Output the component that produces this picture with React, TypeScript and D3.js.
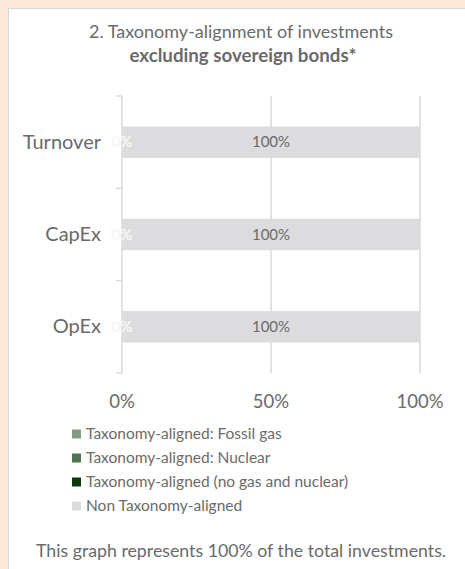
import React from "react";
import * as d3 from "d3";

const categories = ["Turnover", "CapEx", "OpEx"];
const seriesNames = [
  "Taxonomy-aligned: Fossil gas",
  "Taxonomy-aligned: Nuclear",
  "Taxonomy-aligned (no gas and nuclear)",
  "Non Taxonomy-aligned",
];
const fossilGas = [0, 0, 0];
const nuclear = [0, 0, 0];
const alignedOther = [0, 0, 0];
const nonAligned = [100, 100, 100];
const xTicks = [0, 50, 100];
const colors = ["#819c82", "#4f7553", "#0b3a0e", "#dcdcde"];

const W = 465;
const H = 569;
const font = "Lato, 'Open Sans', sans-serif";
const textColor = "#6a6a6a";

const App: React.FC = () => {
  const values = [fossilGas, nuclear, alignedOther, nonAligned];
  const rows = categories.map((c, i) => {
    const r: any = { cat: c };
    seriesNames.forEach((s, j) => (r[s] = values[j][i]));
    return r;
  });
  const stacked = d3.stack<any>().keys(seriesNames)(rows);

  const x = d3.scaleLinear().domain([0, 100]).range([122, 420]);
  const y = d3.scaleBand().domain(categories).range([96, 373]).paddingInner(0.66).paddingOuter(0.33);
  const band = d3.scaleBand().domain(categories).range([96, 373]);

  const boundaries = [96, ...categories.map((c) => (band(c) as number) + band.bandwidth())];

  return (
    <svg width={W} height={H} style={{ position: "absolute", left: 0, top: 0 }} fontFamily={font}>
      <rect x={0} y={0} width={W} height={H} fill="#fce9d8" />
      <rect x={8.5} y={8.5} width={W} height={H} fill="#fff" stroke="#d6d8dc" strokeWidth={1} />

      <text x={241} y={37.5} textAnchor="middle" fontSize={18} fill={textColor} textLength={304} lengthAdjust="spacingAndGlyphs">
        2. Taxonomy-alignment of investments
      </text>
      <text x={243} y={62} textAnchor="middle" fontSize={18} fontWeight="bold" fill={textColor} textLength={227} lengthAdjust="spacingAndGlyphs">
        excluding sovereign bonds*
      </text>

      {/* gridlines */}
      {xTicks.map((t) => (
        <line key={t} x1={x(t)} x2={x(t)} y1={96} y2={373} stroke="#d9d9d9" strokeWidth={1.5} />
      ))}
      {boundaries.map((b, i) => (
        <line key={i} x1={116} x2={122} y1={b} y2={b} stroke="#d9d9d9" strokeWidth={1.5} />
      ))}

      {/* bars */}
      {stacked.map((s, j) =>
        s.map((d, i) => (
          <rect
            key={`${j}-${i}`}
            x={x(d[0])}
            y={y(categories[i])}
            width={x(d[1]) - x(d[0])}
            height={y.bandwidth()}
            fill={colors[j]}
          />
        ))
      )}
      {stacked.map((s, j) =>
        s.map((d, i) => (
          <text
            key={`l${j}-${i}`}
            x={(x(d[0]) + x(d[1])) / 2}
            y={(y(categories[i]) as number) + y.bandwidth() / 2 + 5}
            textAnchor="middle"
            fontSize={15}
            fill={d[1] - d[0] === 0 ? "#f6f6f6" : textColor}
          >
            {`${d[1] - d[0]}%`}
          </text>
        ))
      )}

      {categories.map((c) => (
        <text
          key={c}
          x={101}
          y={(band(c) as number) + band.bandwidth() / 2 + 6.5}
          textAnchor="end"
          fontSize={20}
          fill={textColor}
        >
          {c}
        </text>
      ))}

      {xTicks.map((t) => (
        <text key={t} x={x(t)} y={408} textAnchor="middle" fontSize={18.5} fill={textColor}>
          {`${t}%`}
        </text>
      ))}

      {seriesNames.map((s, j) => (
        <g key={s} transform={`translate(72,${434 + j * 24})`}>
          <rect x={0} y={-4.5} width={9} height={9} fill={colors[j]} />
          <text x={14} y={5} fontSize={15.5} fill={textColor}>
            {s}
          </text>
        </g>
      ))}

      <text x={241} y={557} textAnchor="middle" fontSize={18} fill={textColor} textLength={410} lengthAdjust="spacingAndGlyphs">
        This graph represents 100% of the total investments.
      </text>
    </svg>
  );
};

export default App;
